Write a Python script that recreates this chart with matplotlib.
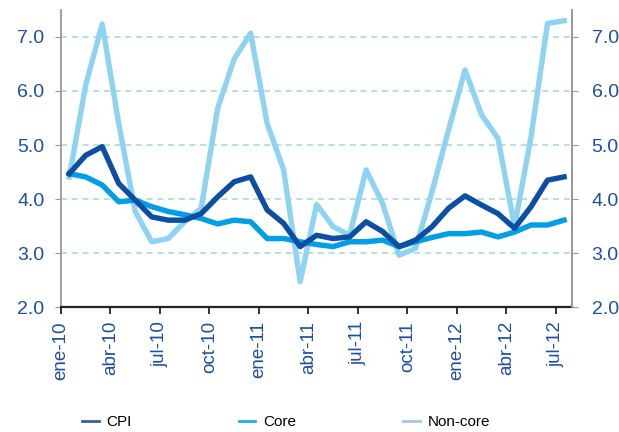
import matplotlib.pyplot as plt

plt.rcParams['font.family'] = ['Liberation Sans', 'DejaVu Sans']

# monthly data ene-10 .. jul-12
months = list(range(31))
tick_labels = ['ene-10', 'abr-10', 'jul-10', 'oct-10', 'ene-11', 'abr-11',
               'jul-11', 'oct-11', 'ene-12', 'abr-12', 'jul-12']

cpi = [4.47, 4.81, 4.97, 4.29, 3.98, 3.67, 3.61, 3.61, 3.73, 4.04, 4.32, 4.41,
       3.80, 3.55, 3.12, 3.33, 3.27, 3.30, 3.58, 3.40, 3.12, 3.24, 3.49, 3.83,
       4.06, 3.89, 3.73, 3.46, 3.86, 4.35, 4.41]
core = [4.47, 4.41, 4.26, 3.95, 3.98, 3.86, 3.77, 3.71, 3.64, 3.54, 3.61, 3.58,
        3.27, 3.27, 3.21, 3.16, 3.12, 3.21, 3.21, 3.24, 3.12, 3.21, 3.29, 3.36,
        3.36, 3.39, 3.30, 3.39, 3.52, 3.52, 3.61]
noncore = [4.41, 6.11, 7.24, 5.40, 3.77, 3.21, 3.27, 3.58, 3.83, 5.68, 6.59, 7.07,
           5.40, 4.54, 2.47, 3.90, 3.49, 3.33, 4.54, 3.92, 2.96, 3.09, 4.14, 5.28,
           6.39, 5.56, 5.12, 3.49, 5.15, 7.25, 7.30]

blue_txt = '#1d4f9f'

fig = plt.figure(figsize=(6.19, 4.32), dpi=100)
ax = fig.add_axes([0.0985, 0.289, 0.826, 0.688])

ax.plot(months, cpi, color='#0b4ea2', lw=3.9, label='CPI', zorder=4)
ax.plot(months, core, color='#009fe3', lw=3.9, label='Core', zorder=3)
ax.plot(months, noncore, color='#8fd3f2', lw=3.9, label='Non-core', zorder=2)

ax.set_xlim(-0.5, 30.5)
ax.set_ylim(2, 7.5)
yt = [2, 3, 4, 5, 6, 7]
ax.set_yticks(yt)
ax.set_yticklabels([f'{v:.1f}' for v in yt], color=blue_txt, fontsize=14)
for v in yt[1:]:
    ax.axhline(v, color='#a6d9cc', lw=1.1, ls=(0, (4, 3)), zorder=1)

ax.set_xticks([m - 0.5 for m in months[::3]])
ax.set_xticklabels(tick_labels, rotation=90, color=blue_txt, fontsize=13.5)

ax.spines['top'].set_visible(False)
ax.spines['left'].set_color('#999999')
ax.spines['right'].set_color('#999999')
ax.spines['left'].set_linewidth(1.3)
ax.spines['right'].set_linewidth(1.3)
ax.spines['bottom'].set_color('#222222')
ax.spines['bottom'].set_linewidth(1.6)
ax.tick_params(axis='y', length=4, color='#999999', pad=8)
ax.tick_params(axis='x', length=5, width=1.3, color='#222222', pad=5)

ax2 = ax.twinx()
ax2.set_ylim(ax.get_ylim())
ax2.set_yticks(yt)
ax2.set_yticklabels([f'{v:.1f}' for v in yt], color=blue_txt, fontsize=14)
ax2.tick_params(axis='y', length=4, color='#999999', pad=10)
for s in ['top', 'left', 'bottom']:
    ax2.spines[s].set_visible(False)
ax2.spines['right'].set_color('#999999')
ax2.spines['right'].set_linewidth(1.3)

h, l = ax.get_legend_handles_labels()
leg = fig.legend(h, l, loc='lower left', bbox_to_anchor=(0.11, -0.025), ncol=3,
                 frameon=False, fontsize=11, handlelength=1.1, handletextpad=0.5,
                 columnspacing=7.0)
leg_cols = ['#3a5f9a', '#1ab0ee', '#a5c6e6']
for line, c in zip(leg.get_lines(), leg_cols):
    line.set_linewidth(2)
    line.set_color(c)

fig.savefig('out.png', dpi=100)
